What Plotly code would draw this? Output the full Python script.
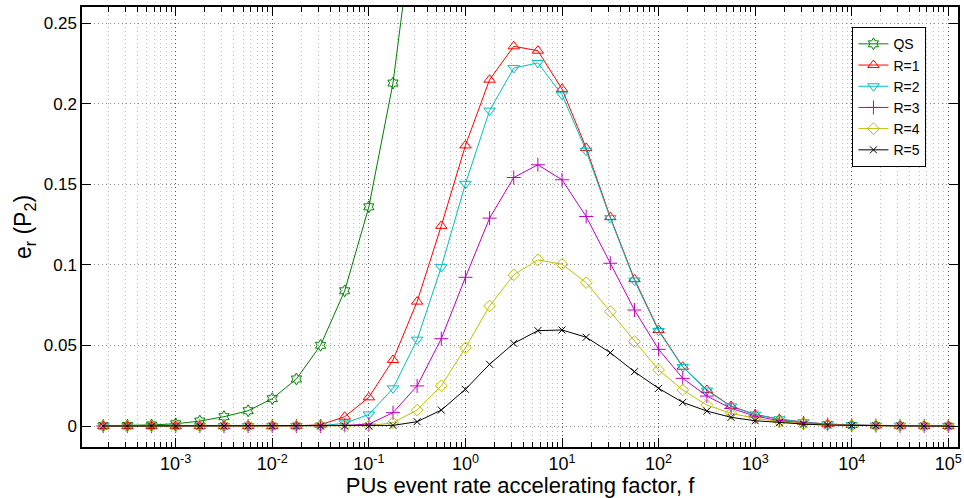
import plotly.graph_objects as go

# x positions: f = 10**exponent
exponents = [-3.75, -3.5, -3.25, -3.0, -2.75, -2.5, -2.25, -2.0, -1.75, -1.5,
             -1.25, -1.0, -0.75, -0.5, -0.25, 0.0, 0.25, 0.5, 0.75, 1.0,
             1.25, 1.5, 1.75, 2.0, 2.25, 2.5, 2.75, 3.0, 3.25, 3.5,
             3.75, 4.0, 4.25, 4.5, 4.75, 5.0]
f_vals = [10 ** e for e in exponents]

qs = [0.0002, 0.0004, 0.0007, 0.0014, 0.0031, 0.0058, 0.0095, 0.0170, 0.0292, 0.0501,
      0.0839, 0.1360, 0.2128, 0.3300]
r1 = [0, 0, 0, 0, 0, 0, 0, 0, 0.0001, 0.0008,
      0.0058, 0.0178, 0.0410, 0.0772, 0.1242, 0.1741, 0.2149, 0.2356, 0.2329, 0.2091,
      0.1725, 0.1296, 0.0911, 0.0596, 0.0368, 0.0224, 0.0124, 0.0072, 0.0043, 0.0025,
      0.0012, 0.0006, 0.0003, 0.0002, 0.0001, 0.0]
r2 = [0, 0, 0, 0, 0, 0, 0, 0, 0, 0.0002,
      0.0017, 0.0072, 0.0234, 0.0536, 0.0986, 0.1503, 0.1957, 0.2221, 0.2253, 0.2056,
      0.1708, 0.1290, 0.0903, 0.0590, 0.0366, 0.0220, 0.0122, 0.0071, 0.0042, 0.0024,
      0.0012, 0.0006, 0.0003, 0.0002, 0.0001, 0.0]
r3 = [0, 0, 0, 0, 0, 0, 0, 0, 0, 0,
      0.0004, 0.0012, 0.0083, 0.0249, 0.0542, 0.0923, 0.1290, 0.1542, 0.1621, 0.1528,
      0.1300, 0.1010, 0.0720, 0.0476, 0.0296, 0.0186, 0.0110, 0.0062, 0.0033, 0.0019,
      0.0010, 0.0005, 0.0003, 0.0001, 0.0001, 0.0]
r4 = [0, 0, 0, 0, 0, 0, 0, 0, 0, 0,
      0, 0.0002, 0.0021, 0.0099, 0.0250, 0.0485, 0.0745, 0.0938, 0.1031, 0.1004,
      0.0890, 0.0710, 0.0524, 0.0348, 0.0224, 0.0130, 0.0079, 0.0048, 0.0027, 0.0015,
      0.0008, 0.0004, 0.0002, 0.0001, 0.0, 0.0]
r5 = [0, 0, 0, 0, 0, 0, 0, 0, 0, 0,
      0, 0, 0.0004, 0.0027, 0.0099, 0.0228, 0.0383, 0.0513, 0.0592, 0.0596,
      0.0551, 0.0455, 0.0337, 0.0234, 0.0147, 0.0093, 0.0054, 0.0033, 0.0021, 0.0012,
      0.0006, 0.0003, 0.0002, 0.0001, 0.0, 0.0]

names = ["QS", "R=1", "R=2", "R=3", "R=4", "R=5"]
series = [qs, r1, r2, r3, r4, r5]
colors = ["#008000", "#FF0000", "#00BFBF", "#BF00BF", "#BFBF00", "#000000"]
symbols = ["hexagram-open", "triangle-up-open", "triangle-down-open",
           "cross-thin-open", "diamond-open", "x-thin-open"]
msizes = [9, 10, 10, 10, 9, 7]

x_tick_exps = [-3, -2, -1, 0, 1, 2, 3, 4, 5]
y_ticks = [0, 0.05, 0.1, 0.15, 0.2, 0.25]
y_tick_text = ["0", "0.05", "0.1", "0.15", "0.2", "0.25"]

fig = go.Figure()
for name, ys, c, s, ms in zip(names, series, colors, symbols, msizes):
    fig.add_trace(go.Scatter(
        x=f_vals[:len(ys)], y=ys, name=name, mode="lines+markers",
        line=dict(color=c, width=1),
        marker=dict(symbol=s, size=ms, color=c, line=dict(color=c, width=1)),
    ))

minor_vals = []
for n in range(-4, 6):
    for m in range(2, 10):
        minor_vals.append(m * 10 ** n)

font_family = "Liberation Sans, Arial, sans-serif"
fig.update_layout(
    width=964, height=498,
    margin=dict(l=82, r=2, t=7, b=51),
    paper_bgcolor="white", plot_bgcolor="white",
    font=dict(family=font_family, size=17, color="black"),
    showlegend=True,
    legend=dict(x=0.8795, y=0.954, xanchor="left", yanchor="top",
                bgcolor="white", bordercolor="black", borderwidth=1,
                font=dict(size=14), itemwidth=30, tracegroupgap=0),
    xaxis=dict(
        type="log", range=[-3.97, 5.10],
        tickvals=[10 ** e for e in x_tick_exps],
        ticktext=["10<sup>%d</sup>" % e for e in x_tick_exps],
        ticks="inside", ticklen=9, tickcolor="black", tickwidth=1,
        showline=True, linecolor="black", linewidth=1.5, mirror="ticks",
        showgrid=True, gridcolor="#555555", griddash="1px,3px", gridwidth=1,
        zeroline=False,
        minor=dict(tickvals=minor_vals, ticks="inside", ticklen=5,
                   tickcolor="black", showgrid=True, gridcolor="#bdbdbd",
                   griddash="1px,3px", gridwidth=1),
        title=dict(text="PUs event rate accelerating factor, f",
                   font=dict(size=22), standoff=2),
        tickfont=dict(size=18),
    ),
    yaxis=dict(
        range=[-0.013, 0.26],
        tickvals=y_ticks, ticktext=y_tick_text,
        ticks="inside", ticklen=9, tickcolor="black", tickwidth=1,
        showline=True, linecolor="black", linewidth=1.5, mirror="ticks",
        showgrid=True, gridcolor="#8c8c8c", griddash="1px,3px", gridwidth=1,
        zeroline=False,
        title=dict(text="e<sub>r</sub> (P<sub>2</sub>)", font=dict(size=23),
                   standoff=6),
        tickfont=dict(size=17),
    ),
)

fig.write_html("out.html")
